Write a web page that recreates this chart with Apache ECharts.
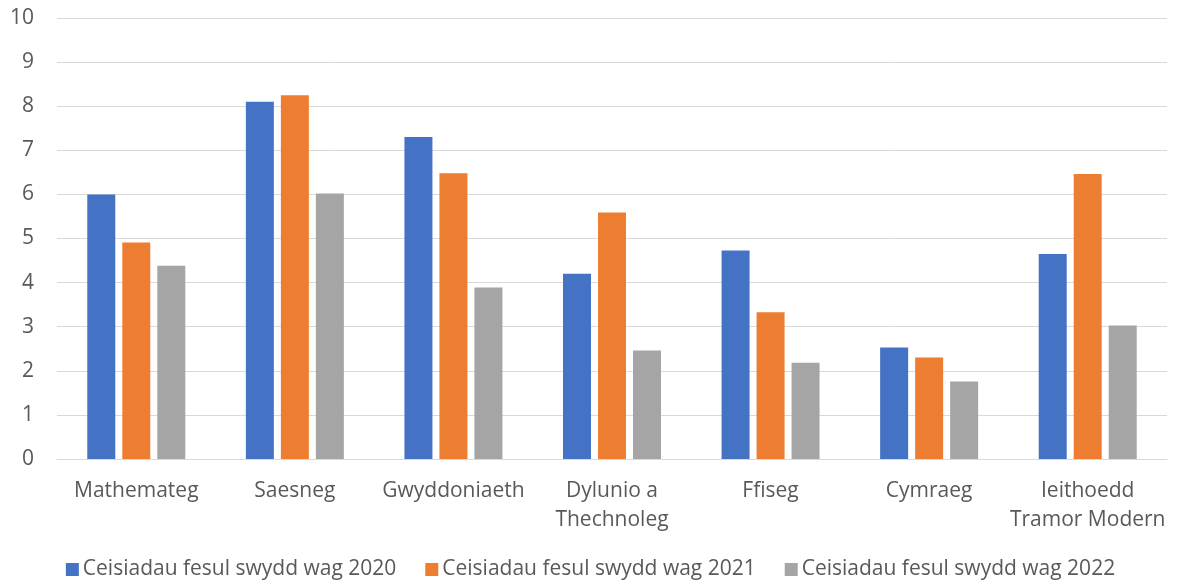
<!DOCTYPE html>
<html>
<head>
<meta charset="utf-8">
<script src="https://cdn.jsdelivr.net/npm/echarts@6/dist/echarts.min.js"></script>
<style>
  html, body { margin: 0; padding: 0; background: #fff; }
  #chart { width: 1181px; height: 586px; }
</style>
</head>
<body>
<div id="chart"></div>
<script>
// Subjects (line breaks where the axis labels wrap)
const categories = [
  'Mathemateg',
  'Saesneg',
  'Gwyddoniaeth',
  'Dylunio a\nThechnoleg',
  'Ffiseg',
  'Cymraeg',
  'Ieithoedd\nTramor Modern'
];

const seriesNames = [
  'Ceisiadau fesul swydd wag 2020',
  'Ceisiadau fesul swydd wag 2021',
  'Ceisiadau fesul swydd wag 2022'
];

// Applications per vacancy
const values2020 = [6.00, 8.10, 7.30, 4.20, 4.73, 2.53, 4.65];
const values2021 = [4.91, 8.25, 6.48, 5.59, 3.33, 2.30, 6.46];
const values2022 = [4.38, 6.02, 3.89, 2.46, 2.18, 1.76, 3.03];

const yTicks = [0, 1, 2, 3, 4, 5, 6, 7, 8, 9, 10];

const colors = ['#4472c4', '#ed7d31', '#a5a5a5'];
const textColor = '#595959';
const fontFamily = 'Open Sans, Noto Sans, sans-serif';

const chart = echarts.init(document.getElementById('chart'), null, { renderer: 'canvas' });

const seriesData = [values2020, values2021, values2022];

chart.setOption({
  animation: false,
  color: colors,
  textStyle: { fontFamily: fontFamily, color: textColor },
  grid: { left: 57, right: 14, top: 18, bottom: 127, containLabel: false },
  legend: {
    bottom: 1,
    left: 'center',
    icon: 'rect',
    itemWidth: 13,
    itemHeight: 13,
    itemGap: 29,
    textStyle: { fontSize: 21, color: textColor, fontFamily: fontFamily, padding: [0, 0, 0, -1] },
    data: seriesNames
  },
  xAxis: {
    type: 'category',
    data: categories,
    axisLine: { show: true, lineStyle: { color: '#d9d9d9', width: 1 } },
    axisTick: { show: false },
    axisLabel: {
      interval: 0,
      margin: 18,
      fontSize: 21,
      lineHeight: 29,
      color: textColor,
      fontFamily: fontFamily
    }
  },
  yAxis: {
    type: 'value',
    min: yTicks[0],
    max: yTicks[yTicks.length - 1],
    interval: 1,
    axisLine: { show: false },
    axisTick: { show: false },
    splitLine: { lineStyle: { color: '#d9d9d9', width: 1 } },
    axisLabel: {
      margin: 23,
      fontSize: 21,
      color: textColor,
      fontFamily: fontFamily
    }
  },
  series: seriesNames.map((name, i) => ({
    name: name,
    type: 'bar',
    data: seriesData[i],
    barWidth: 28,
    barGap: '25%',
    itemStyle: { color: colors[i] }
  }))
});
</script>
</body>
</html>
